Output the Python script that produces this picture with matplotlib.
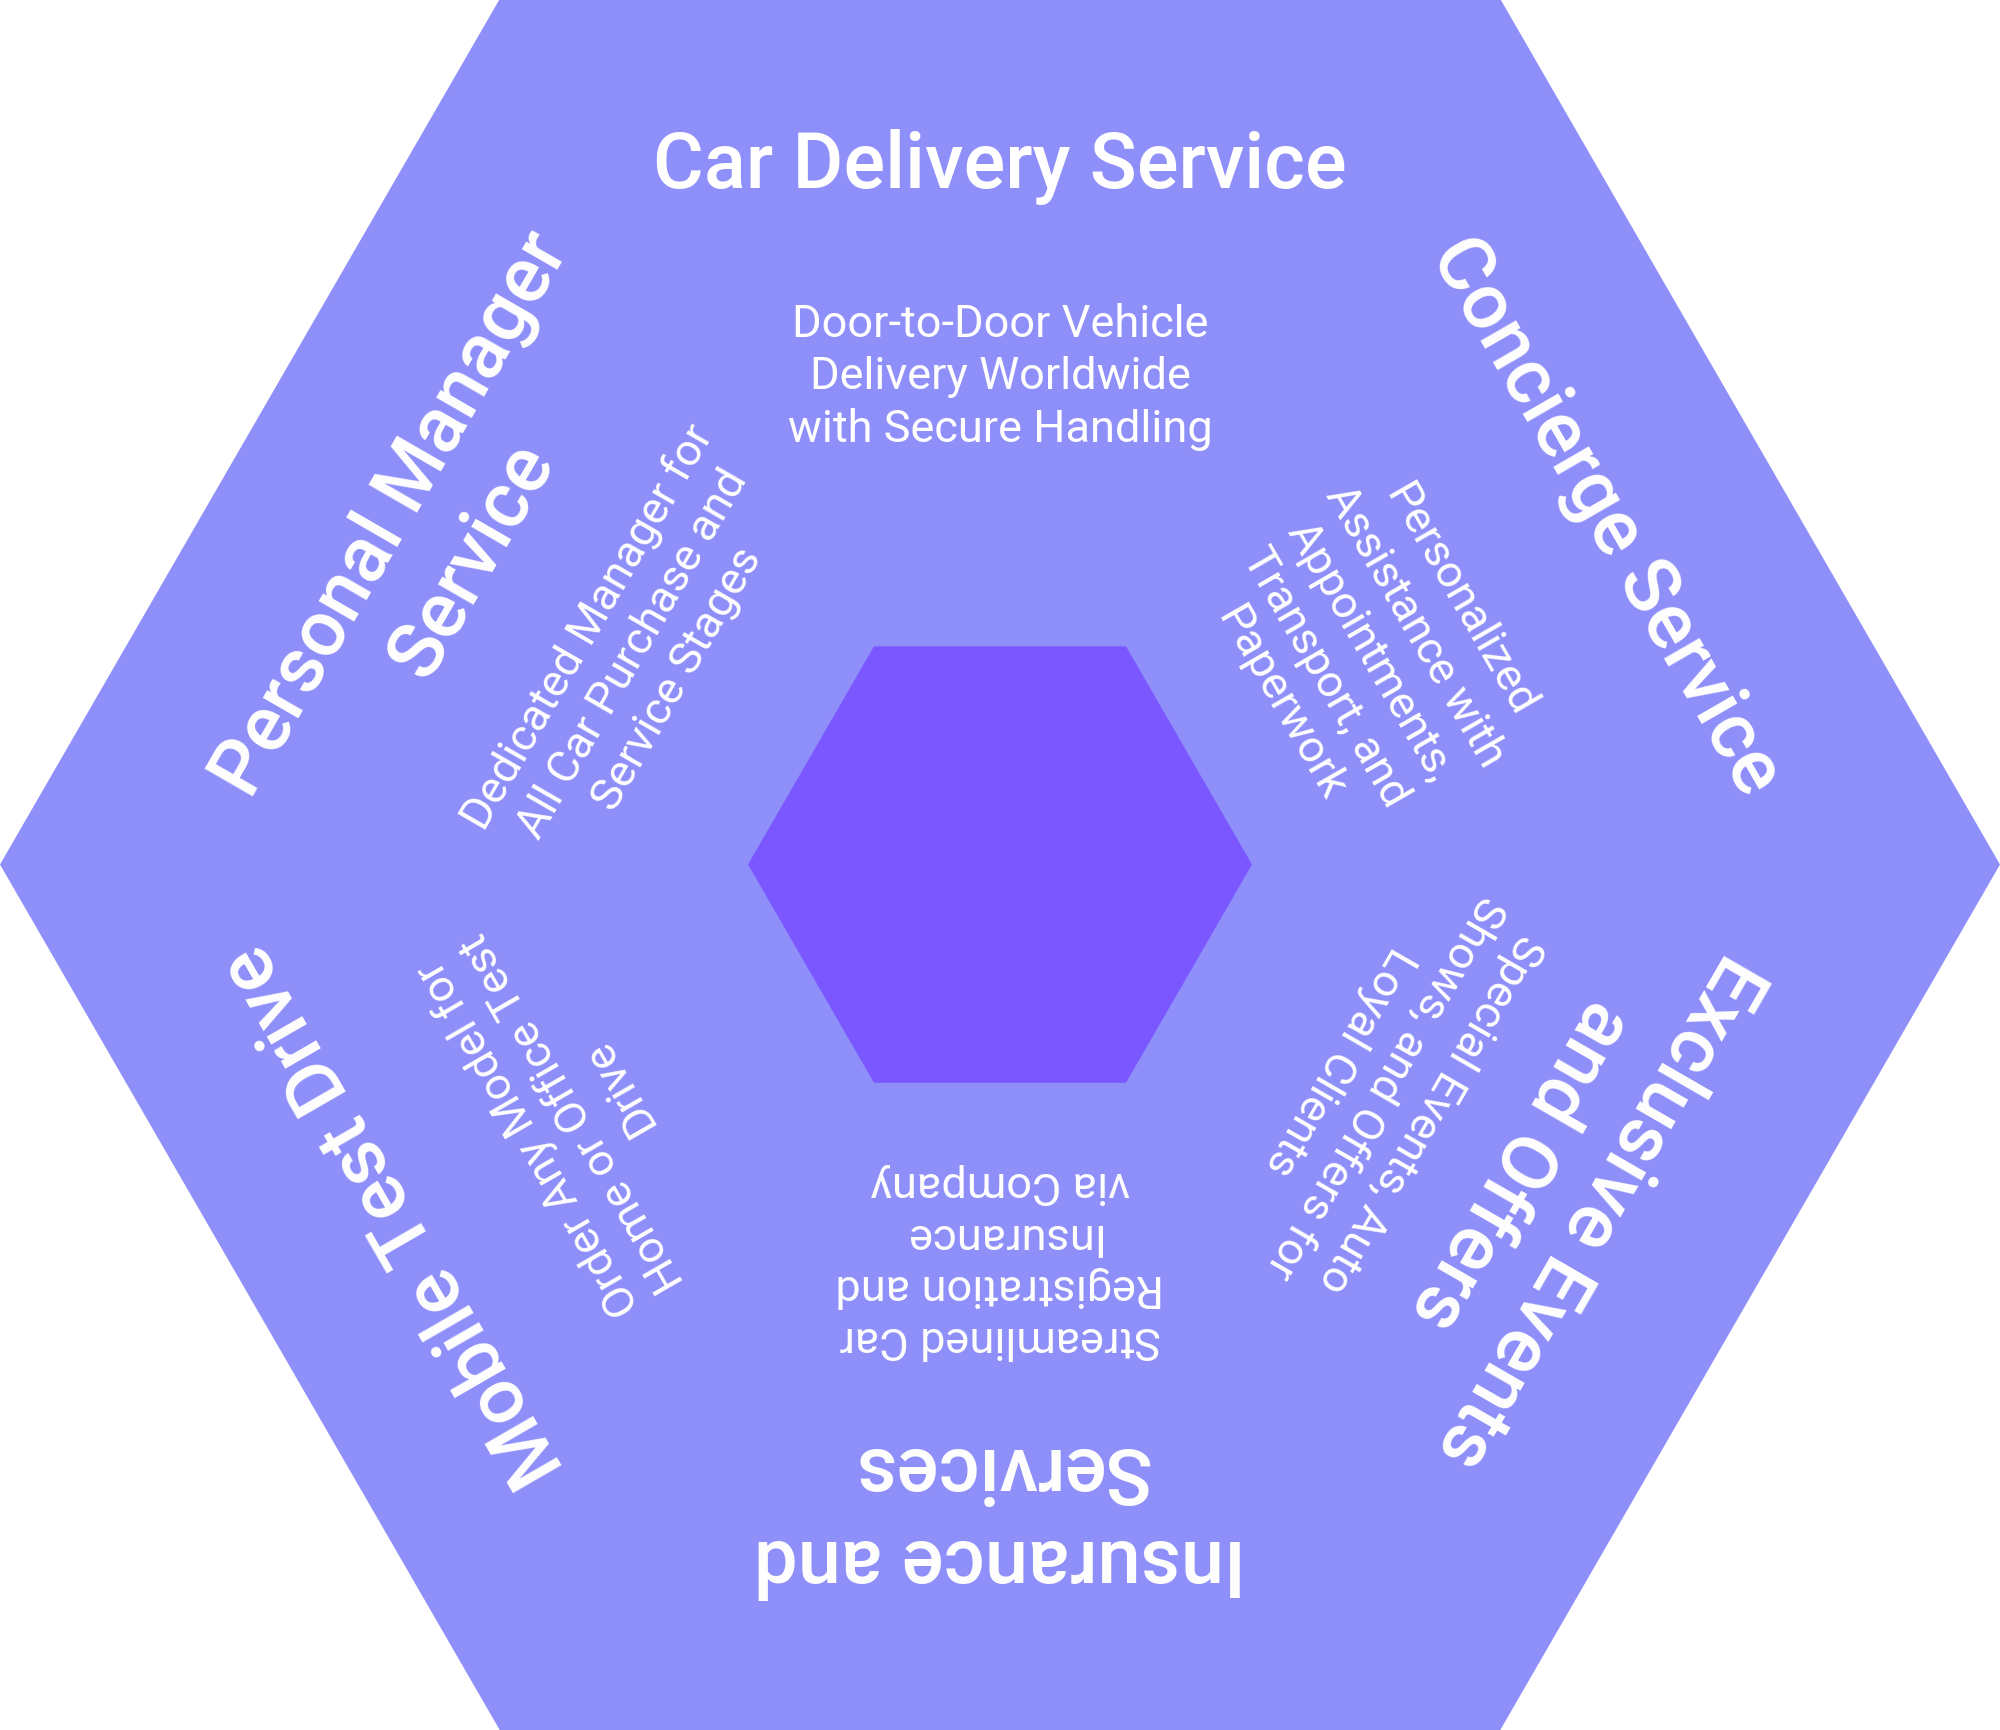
import numpy as np
import matplotlib.pyplot as plt
from matplotlib.patches import RegularPolygon

# sector content, clockwise from the top
titles = [
    "Car Delivery Service",
    "Concierge Service",
    "Exclusive Events\nand Offers",
    "Insurance and\nServices",
    "Mobile Test Drive",
    "Personal Manager\nService",
]
descriptions = [
    "Door-to-Door Vehicle\nDelivery Worldwide\nwith Secure Handling",
    "Personalized\nAssistance with\nAppointments,\nTransport, and\nPaperwork",
    "Special Events, Auto\nShows, and Offers for\nLoyal Clients",
    "Streamlined Car\nRegistration and\nInsurance\nvia Company",
    "Order Any Model for\nHome or Office Test\nDrive",
    "Dedicated Manager for\nAll Car Purchase and\nService Stages",
]

# radial placement of each text block (pixels from the centre)
title_r = [699, 700, 646, 650, 700, 656]
desc_r = [488, 427, 444, 396, 493, 424]

OUTER = "#8F8FFA"
INNER = "#7A57FF"
W, H = 2000, 1731
cx, cy = W / 2, H / 2

fig = plt.figure(figsize=(W / 100, H / 100), dpi=100)
ax = fig.add_axes([0, 0, 1, 1])
ax.set_xlim(0, W)
ax.set_ylim(0, H)
ax.axis("off")

ax.add_patch(RegularPolygon((cx, cy), 6, radius=1000, orientation=np.pi / 6,
                            facecolor=OUTER, edgecolor="none"))
ax.add_patch(RegularPolygon((cx, cy), 6, radius=252, orientation=np.pi / 6,
                            facecolor=INNER, edgecolor="none"))

for i, (t, d) in enumerate(zip(titles, descriptions)):
    ang = np.deg2rad(90 - 60 * i)
    rot = -60 * i
    ax.text(cx + title_r[i] * np.cos(ang), cy + title_r[i] * np.sin(ang), t,
            rotation=rot, rotation_mode="anchor", ha="center", va="center",
            multialignment="center", color="white", fontsize=56,
            fontfamily="Roboto", fontweight="medium", linespacing=1.3)
    ax.text(cx + desc_r[i] * np.cos(ang), cy + desc_r[i] * np.sin(ang), d,
            rotation=rot, rotation_mode="anchor", ha="center", va="center",
            multialignment="center", color="white", fontsize=32.5,
            fontfamily="Roboto", fontweight="normal", linespacing=1.3)

fig.savefig("out.png", dpi=100, facecolor="white")
